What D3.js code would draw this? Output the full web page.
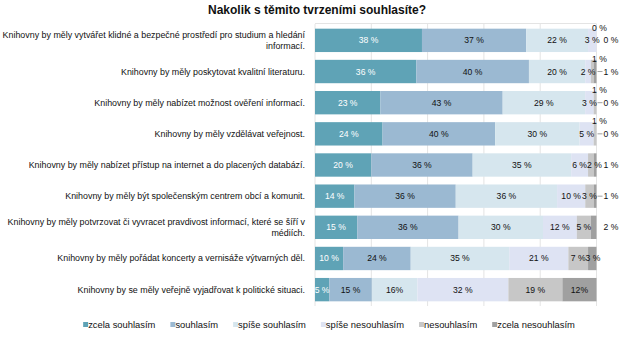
<!DOCTYPE html>
<html><head><meta charset="utf-8">
<script src="https://cdn.jsdelivr.net/npm/d3@7"></script>
<style>body{margin:0;background:#fff}svg{display:block;font-family:"Liberation Sans",Arial,sans-serif}</style>
</head><body>
<svg id="c" width="630" height="337"></svg>
<script>
const title = "Nakolik s těmito tvrzeními souhlasíte?";
const categories = [
  "Knihovny by měly vytvářet klidné a bezpečné prostředí pro studium a hledání informací.",
  "Knihovny by měly poskytovat kvalitní literaturu.",
  "Knihovny by měly nabízet možnost ověření informací.",
  "Knihovny by měly vzdělávat veřejnost.",
  "Knihovny by měly nabízet přístup na internet a do placených databází.",
  "Knihovny by měly být společenským centrem obcí a komunit.",
  "Knihovny by měly potvrzovat či vyvracet pravdivost informací, které se šíří v médiích.",
  "Knihovny by měly pořádat koncerty a vernisáže výtvarných děl.",
  "Knihovny by se měly veřejně vyjadřovat k politické situaci."
];
const seriesNames = ["zcela souhlasím","souhlasím","spíše souhlasím","spíše nesouhlasím","nesouhlasím","zcela nesouhlasím"];
const zcelaSouhlasim    = [38,36,23,24,20,14,15,10,5];
const souhlasim         = [37,40,43,40,36,36,36,24,15];
const spiseSouhlasim    = [22,20,29,30,35,36,30,35,16];
const spiseNesouhlasim  = [3,2,3,5,6,10,12,21,32];
const nesouhlasim       = [0,1,1,1,2,3,5,7,19];
const zcelaNesouhlasim  = [0,1,0,0,1,1,2,3,12];
const seriesValues = [zcelaSouhlasim,souhlasim,spiseSouhlasim,spiseNesouhlasim,nesouhlasim,zcelaNesouhlasim];
const colors = ["#5fa3b6","#9bb9d2","#d6e6ee","#dee3f3","#c7c7c7","#a0a0a0"];
const labelColors = ["#ffffff","#111","#111","#111","#111","#111"];
const compactLabels = [[8,2],[8,5]]; // labels written without space
const leaderRows = [1,2,3,5];
const xTicks = [0,0.2,0.4,0.6,0.8,1];

const svg = d3.select("#c");
const x = d3.scaleLinear().domain([0,1]).range([315,596.5]);
const y = d3.scaleBand().domain(d3.range(categories.length)).range([24,306]).paddingInner(0.25).paddingOuter(0.15);

// title
svg.append("text").attr("x",317).attr("y",14).attr("text-anchor","middle")
  .attr("font-size","12px").attr("font-weight","bold").attr("fill","#111").text(title);

// gridlines
svg.append("g").selectAll("line").data(xTicks).join("line")
  .attr("x1",d=>x(d)).attr("x2",d=>x(d)).attr("y1",24).attr("y2",306)
  .attr("stroke","#e4e4e4").attr("stroke-width",1);
svg.append("line").attr("x1",x(0)).attr("x2",x(1)).attr("y1",23.5).attr("y2",23.5).attr("stroke","#e4e4e4");

// stacked data (100% stacked)
const rows = categories.map((c,i)=>{
  const vals = seriesValues.map(s=>s[i]);
  const tot = d3.sum(vals);
  let acc = 0;
  return vals.map((v,k)=>{const seg={row:i,k,v,x0:acc/tot,x1:(acc+v)/tot}; acc+=v; return seg;});
});
const segs = rows.flat();

svg.append("g").selectAll("rect").data(segs).join("rect")
  .attr("x",d=>x(d.x0)).attr("width",d=>Math.max(0,x(d.x1)-x(d.x0)))
  .attr("y",d=>y(d.row)).attr("height",y.bandwidth())
  .attr("fill",d=>colors[d.k]);

// data labels
function place(d){
  if(d.k===4 && d.v<=1) return "above";
  if(d.k===5 && d.v<=2) return "right";
  return "in";
}
const lab = svg.append("g").attr("font-size","8.6px");
rows.forEach(row=>{
  let prevRight = -Infinity;
  row.forEach(d=>{
    const p = place(d);
    const compact = compactLabels.some(e=>e[0]===d.row&&e[1]===d.k);
    const txt = compact ? d.v+"%" : d.v+" %";
    const cy = y(d.row)+y.bandwidth()/2;
    if(p==="in"){
      const t = lab.append("text").attr("y",cy+3).attr("text-anchor","start")
        .attr("fill",labelColors[d.k]).text(txt);
      const w = t.node().getComputedTextLength();
      let left = (x(d.x0)+x(d.x1))/2 - w/2;
      if(left < prevRight) left = prevRight;
      t.attr("x",left);
      prevRight = left + w;
    } else if(p==="above"){
      lab.append("text").attr("x",x(1)+3).attr("y",y(d.row)+2)
        .attr("text-anchor","middle").attr("fill","#111").text(txt);
    } else {
      if(leaderRows.includes(d.row)){
        svg.append("line").attr("x1",x(1)+1).attr("x2",x(1)+6).attr("y1",cy).attr("y2",cy)
          .attr("stroke","#888").attr("stroke-width",0.8);
      }
      lab.append("text").attr("x",x(1)+7).attr("y",cy+3)
        .attr("text-anchor","start").attr("fill","#111").text(txt);
    }
  });
});

// category labels with wrapping
const catG = svg.append("g").attr("font-size","8.9px").attr("fill","#111");
categories.forEach((c,i)=>{
  const t = catG.append("text").attr("text-anchor","end");
  const words = c.split(" ");
  const lines=[]; let line=[];
  const probe = t.append("tspan");
  words.forEach(w=>{
    line.push(w); probe.text(line.join(" "));
    if(probe.node().getComputedTextLength()>312 && line.length>1){
      line.pop(); lines.push(line.join(" ")); line=[w];
    }
  });
  lines.push(line.join(" "));
  probe.remove();
  const cy = y(i)+y.bandwidth()/2;
  const lh = 10.5;
  const y0 = cy + 3 - (lines.length-1)*lh/2;
  lines.forEach((l,j)=>t.append("tspan").attr("x",305).attr("y",y0+j*lh).text(l));
});

// legend
const lg = svg.append("g").attr("font-size","9.4px").attr("fill","#111");
let items=[];
seriesNames.forEach((n,k)=>{
  const g = lg.append("g");
  g.append("rect").attr("x",0).attr("y",-6).attr("width",5).attr("height",5).attr("fill",colors[k]);
  const tt = g.append("text").attr("x",5).attr("y",0).text(n);
  const w = 5+tt.node().getComputedTextLength();
  items.push({g,w});
});
const gap=15;
const total = d3.sum(items,d=>d.w)+gap*(items.length-1);
let pos = 329-total/2;
items.forEach(it=>{it.g.attr("transform",`translate(${pos},328)`); pos+=it.w+gap;});
</script>
</body></html>
